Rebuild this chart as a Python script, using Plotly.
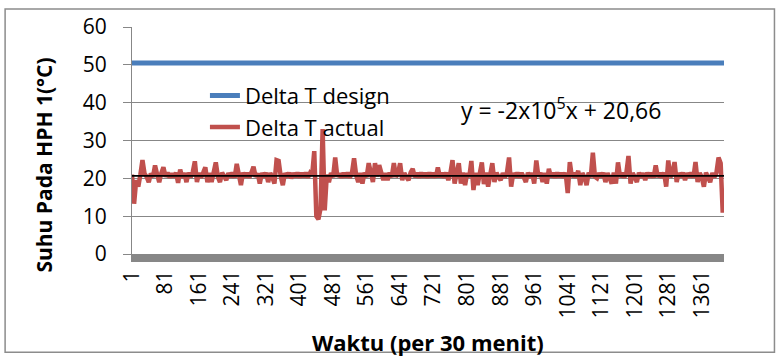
import plotly.graph_objects as go

# ---------------- data ----------------
n_points = 1414                     # number of 30-minute samples on the category axis
x_tick_labels = ["1", "81", "161", "241", "321", "401", "481", "561", "641",
                 "721", "801", "881", "961", "1041", "1121", "1201", "1281", "1361"]
x_tick_values = [1, 81, 161, 241, 321, 401, 481, 561, 641,
                 721, 801, 881, 961, 1041, 1121, 1201, 1281, 1361]
y_tick_values = [0, 10, 20, 30, 40, 50, 60]

delta_t_design = 50.5               # constant design value

sample_step = 5                     # actual values read every 5th sample
delta_t_actual = [
    21.0, 13.3, 19.5, 17.8, 21.0, 24.8, 21.2, 20.4, 19.0, 21.3,
    20.3, 23.4, 21.0, 19.0, 21.4, 22.9, 20.4, 21.5, 20.2, 21.3,
    20.3, 21.5, 18.8, 22.3, 20.2, 21.4, 19.0, 21.5, 20.3, 21.6,
    24.5, 19.0, 21.4, 20.2, 21.5, 22.9, 19.0, 21.4, 19.0, 21.6,
    24.2, 20.4, 19.0, 21.5, 20.2, 19.5, 21.4, 20.3, 21.5, 20.2,
    23.8, 21.0, 18.2, 21.5, 20.3, 21.4, 20.2, 21.5, 23.1, 20.4,
    21.3, 18.6, 21.4, 20.3, 21.5, 19.0, 21.4, 20.3, 18.6, 24.8,
    24.6, 20.5, 18.2, 21.4, 20.3, 21.5, 20.0, 21.4, 20.3, 21.5,
    20.2, 21.4, 20.3, 21.5, 20.2, 21.4, 20.8, 27.2, 10.0, 9.2,
    12.0, 33.0, 11.5, 21.0, 19.0, 21.4, 20.3, 25.5, 20.4, 21.3,
    20.2, 21.4, 20.3, 21.5, 20.2, 21.4, 25.3, 20.8, 19.0, 21.4,
    18.6, 21.5, 20.3, 24.0, 20.8, 19.0, 24.0, 20.5, 23.5, 20.8,
    19.5, 21.4, 19.5, 21.5, 20.3, 24.0, 20.4, 21.3, 24.0, 19.5,
    21.4, 20.3, 19.5, 21.5, 22.5, 20.3, 21.4, 20.2, 21.5, 20.3,
    21.4, 20.2, 21.5, 20.3, 21.4, 20.2, 22.9, 20.3, 21.4, 20.2,
    21.5, 19.5, 21.4, 24.8, 18.6, 21.4, 24.0, 18.6, 21.5, 18.2,
    21.4, 20.3, 24.6, 16.9, 21.5, 18.2, 21.4, 24.2, 18.5, 21.5,
    17.8, 21.4, 24.0, 19.0, 21.5, 20.3, 19.5, 21.4, 20.2, 21.5,
    25.5, 17.8, 21.4, 20.3, 21.5, 20.2, 21.4, 20.3, 19.0, 21.5,
    20.2, 21.4, 18.6, 24.7, 20.4, 21.5, 19.0, 21.4, 18.6, 22.5,
    20.3, 21.4, 20.2, 21.5, 20.3, 21.4, 20.2, 21.5, 16.1, 24.3,
    20.3, 21.4, 20.2, 22.0, 18.2, 21.4, 20.3, 18.2, 21.5, 20.3,
    26.8, 20.4, 20.0, 21.4, 20.3, 21.5, 19.0, 21.4, 20.3, 18.6,
    21.5, 18.6, 24.2, 20.3, 21.4, 20.2, 21.5, 25.9, 18.6, 21.4,
    20.3, 19.0, 21.5, 20.2, 21.4, 19.5, 21.5, 20.3, 21.4, 20.2,
    23.4, 20.3, 21.4, 20.2, 21.5, 17.8, 24.7, 20.3, 21.4, 24.3,
    19.0, 21.4, 20.3, 21.5, 19.5, 21.4, 20.3, 21.5, 20.2, 24.3,
    19.0, 21.4, 20.3, 17.8, 21.5, 20.2, 19.0, 21.4, 20.3, 21.5,
    25.5, 24.0, 10.9,
]

trend_slope = -2e-5
trend_intercept = 20.66
trend_label = "y = -2x10<sup>5</sup>x + 20,66"

# ---------------- figure ----------------
FONT = "Open Sans"
GRID = "#878787"
W, H = 779, 360
ML, MR, MT, MB = 132, 54.5, 22.3, 105.5
plot_w = W - ML - MR
plot_h = H - MT - MB


def px_to_paper_x(px):
    return (px - ML) / plot_w


def py_to_paper_y(py):
    return (H - MB - py) / plot_h


actual_x = [1 + sample_step * i for i in range(len(delta_t_actual))]
trend_x = [1, n_points]
trend_y = [trend_slope * v + trend_intercept for v in trend_x]

fig = go.Figure()
fig.add_trace(go.Scatter(
    x=[1, n_points], y=[delta_t_design, delta_t_design],
    mode="lines", name="Delta T design",
    line=dict(color="#4A7EBB", width=5),
))
fig.add_trace(go.Scatter(
    x=actual_x, y=delta_t_actual,
    mode="lines", name="Delta T actual",
    line=dict(color="#C0504D", width=4.5),
))
fig.add_trace(go.Scatter(
    x=trend_x, y=trend_y, mode="lines", showlegend=False,
    line=dict(color="#000000", width=1.8),
))

fig.update_layout(
    width=W, height=H,
    margin=dict(l=ML, r=MR, t=MT, b=MB, pad=0),
    paper_bgcolor="white", plot_bgcolor="white",
    font=dict(family=FONT, size=21, color="black"),
    showlegend=True,
    legend=dict(
        x=px_to_paper_x(205), y=py_to_paper_y(71),
        xanchor="left", yanchor="top",
        bgcolor="rgba(0,0,0,0)", borderwidth=0,
        font=dict(family=FONT, size=22, color="black"),
        tracegroupgap=0,
    ),
    xaxis=dict(
        range=[1, n_points],
        tickmode="array", tickvals=x_tick_values, ticktext=x_tick_labels,
        tickangle=-90, showgrid=False, zeroline=False,
        showline=True, linecolor=GRID, linewidth=8,
        ticks="", tickfont=dict(family=FONT, size=21, color="black"),
        ticklabelstandoff=0,
    ),
    yaxis=dict(
        range=[0, 60], tickmode="array", tickvals=y_tick_values,
        showgrid=True, gridcolor=GRID, gridwidth=1, zeroline=False,
        showline=True, linecolor=GRID, linewidth=1,
        ticks="outside", ticklen=8, tickcolor=GRID, tickwidth=1,
        tickfont=dict(family=FONT, size=21, color="black"),
        ticklabelstandoff=12,
    ),
    annotations=[
        dict(text=trend_label, x=px_to_paper_x(561), y=py_to_paper_y(106),
             xref="paper", yref="paper", showarrow=False,
             xanchor="center", yanchor="middle",
             font=dict(family=FONT, size=23, color="black")),
        dict(text="<b>Waktu (per 30 menit)</b>", x=px_to_paper_x(428),
             y=py_to_paper_y(345), xref="paper", yref="paper",
             showarrow=False, xanchor="center", yanchor="middle",
             font=dict(family=FONT, size=22, color="black")),
        dict(text="<b>Suhu Pada HPH 1(°C)</b>", x=px_to_paper_x(43),
             y=py_to_paper_y(164), xref="paper", yref="paper",
             showarrow=False, xanchor="center", yanchor="middle",
             textangle=-90,
             font=dict(family=FONT, size=21, color="black")),
    ],
    shapes=[
        dict(type="rect", xref="paper", yref="paper",
             x0=px_to_paper_x(5), x1=px_to_paper_x(775),
             y0=py_to_paper_y(355), y1=py_to_paper_y(4),
             line=dict(color="#8C8C8C", width=1.5), layer="below"),
    ],
)

fig.write_html(
    "out.html",
    config={"displayModeBar": False},
    post_script="document.body.style.margin='0';document.body.style.overflow='hidden';",
)
